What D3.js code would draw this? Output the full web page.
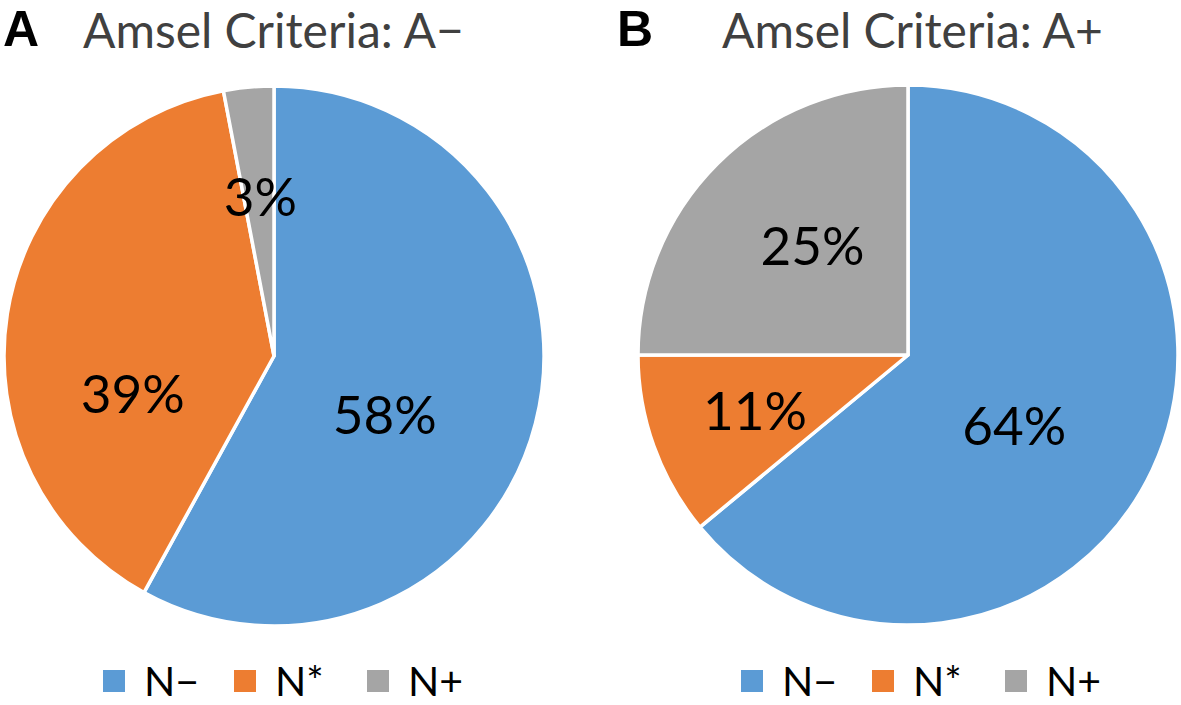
<!DOCTYPE html>
<html><head><meta charset="utf-8">
<script src="https://cdn.jsdelivr.net/npm/d3@7"></script>
<style>body{margin:0;background:#fff}svg{display:block}</style>
</head><body><svg id="c" width="1181" height="705"></svg>
<script>
const categories = ["N−", "N*", "N+"];
const colors = ["#5B9BD5", "#ED7D31", "#A5A5A5"];
const panels = ["A", "B"];
const titles = ["Amsel Criteria: A−", "Amsel Criteria: A+"];
const valuesA = [58, 39, 3];
const valuesB = [64, 11, 25];
const seriesValues = [valuesA, valuesB];

// layout (not data)
const svg = d3.select("#c");
const font = "Lato, 'Open Sans', sans-serif";
const r = 270;
const centers = [[274, 356], [908, 355]];
const titleX = [83, 722];
const letterX = [3, 617];
const legendX = [103, 741];
const legendStep = [0, 131, 264];
// label nudges relative to the arc centroid (Excel-like label placement)
const labelNudge = [
  [[-20, 25], [-8, 59], [-1, -25]],
  [[-16, 13], [-26, 10], [0, -14]]
];

const pie = d3.pie().sort(null).value(d => d);
const arc = d3.arc().innerRadius(0).outerRadius(r);
const labelArc = d3.arc().innerRadius(r * 0.5).outerRadius(r * 0.5);
const color = d3.scaleOrdinal().domain(categories).range(colors);

panels.forEach((p, i) => {
  const g = svg.append("g");
  g.append("text").attr("x", letterX[i]).attr("y", 46)
    .attr("font-family", "'Liberation Sans', Arial, sans-serif").attr("font-weight", "bold")
    .attr("font-size", 50).attr("fill", "#000").text(p);
  g.append("text").attr("x", titleX[i]).attr("y", 48)
    .attr("font-family", font).attr("font-size", 48).attr("fill", "#404040").text(titles[i]);

  const pg = g.append("g").attr("transform", `translate(${centers[i][0]},${centers[i][1]})`);
  const arcs = pie(seriesValues[i]);
  pg.selectAll("path").data(arcs).join("path")
    .attr("d", arc).attr("fill", (d, j) => color(categories[j]))
    .attr("stroke", "#fff").attr("stroke-width", 3.5).attr("stroke-linejoin", "round");
  pg.selectAll("text").data(arcs).join("text")
    .attr("transform", (d, j) => {
      const c = labelArc.centroid(d);
      return `translate(${c[0] + labelNudge[i][j][0]},${c[1] + labelNudge[i][j][1]})`;
    })
    .attr("text-anchor", "middle").attr("dy", "0.36em")
    .attr("font-family", font).attr("font-size", 53).attr("fill", "#000")
    .text(d => d.data + "%");

  const lg = g.append("g").attr("transform", `translate(${legendX[i]},670)`);
  categories.forEach((c, j) => {
    lg.append("rect").attr("x", legendStep[j]).attr("y", 0).attr("width", 22).attr("height", 22).attr("fill", color(c));
    lg.append("text").attr("x", legendStep[j] + 41).attr("y", 26)
      .attr("font-family", font).attr("font-size", 41).attr("fill", "#000").text(c);
  });
});
</script></body></html>
